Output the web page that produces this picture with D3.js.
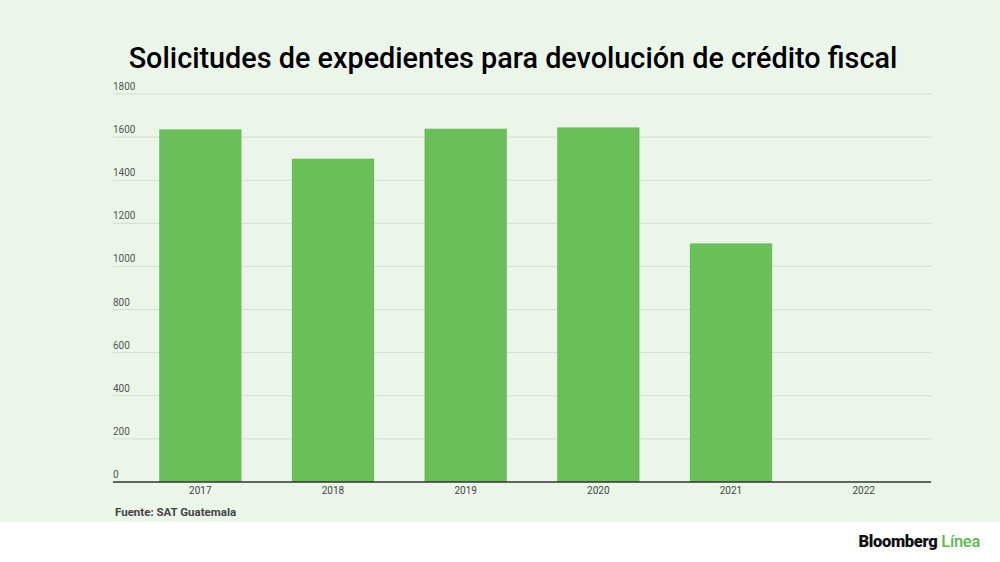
<!DOCTYPE html>
<meta charset="utf-8">
<head>
	<style type="text/css">
		body { margin: 0; background: #fff; }
		text { font-family: Roboto, "Noto Sans", sans-serif; }
		.grid line { stroke: #d4dcd2; stroke-width: 1; }
	</style>
	<title>Solicitudes de expedientes</title>
</head>

<script src="https://cdn.jsdelivr.net/npm/d3@7/dist/d3.min.js"></script>

<svg width="1000" height="562" id="svg1"></svg>

<script>
	// data
	const years = ['2017', '2018', '2019', '2020', '2021', '2022'];
	const requests = [1636, 1500, 1639, 1645, 1107, 0];
	const yTicks = [0, 200, 400, 600, 800, 1000, 1200, 1400, 1600, 1800];

	const svg1 = d3.select('#svg1');
	const width = +svg1.attr('width');
	const height = +svg1.attr('height');

	// green panel, white strip below it
	svg1.append('rect')
		.attr('width', width)
		.attr('height', 522)
		.attr('fill', '#ebf5e9');

	const x = d3.scaleBand()
		.domain(years)
		.range([134, 930])
		.paddingInner(0.38)
		.paddingOuter(0.19);

	const y = d3.scaleLinear()
		.domain([0, 1800])
		.range([482, 94]);

	// gridlines
	svg1.append('g')
		.attr('class', 'grid')
		.selectAll('line')
		.data(yTicks.filter(d => d > 0))
		.enter()
			.append('line')
				.attr('x1', 113)
				.attr('x2', 931)
				.attr('y1', d => y(d))
				.attr('y2', d => y(d));

	// y labels sit above their lines
	svg1.append('g')
		.selectAll('text')
		.data(yTicks)
		.enter()
			.append('text')
				.attr('x', 113)
				.attr('y', d => y(d) - 4)
				.attr('font-size', 10)
				.attr('fill', '#555')
				.text(d => d);

	svg1.append('g')
		.selectAll('rect')
		.data(years)
		.enter()
			.append('rect')
				.attr('x', d => x(d))
				.attr('width', x.bandwidth())
				.attr('y', (d, i) => y(requests[i]))
				.attr('height', (d, i) => y(0) - y(requests[i]))
				.attr('fill', '#6abf59');

	// baseline
	svg1.append('line')
		.attr('x1', 113)
		.attr('x2', 931)
		.attr('y1', y(0))
		.attr('y2', y(0))
		.attr('stroke', '#333')
		.attr('stroke-width', 1.5);

	svg1.append('g')
		.selectAll('text')
		.data(years)
		.enter()
			.append('text')
				.attr('x', d => x(d) + x.bandwidth() / 2)
				.attr('y', 494)
				.attr('text-anchor', 'middle')
				.attr('font-size', 10)
				.attr('fill', '#444')
				.text(d => d);

	svg1.append('text')
		.attr('x', 513)
		.attr('y', 68)
		.attr('text-anchor', 'middle')
		.attr('font-size', 28.8)
		.attr('font-weight', 500)
		.attr('fill', '#000')
		.text('Solicitudes de expedientes para devolución de crédito fiscal');

	svg1.append('text')
		.attr('x', 115)
		.attr('y', 516)
		.attr('font-size', 11.5)
		.attr('font-weight', 700)
		.attr('fill', '#444')
		.text('Fuente: SAT Guatemala');

	const logo = svg1.append('text')
		.attr('x', 980)
		.attr('y', 547)
		.attr('text-anchor', 'end')
		.attr('font-size', 16.5)
		.attr('font-weight', 900)
		.attr('letter-spacing', -0.3);
	logo.append('tspan').attr('fill', '#111').text('Bloomberg ');
	logo.append('tspan').attr('fill', '#5bb84a').attr('font-weight', 500).text('Línea');
</script>
